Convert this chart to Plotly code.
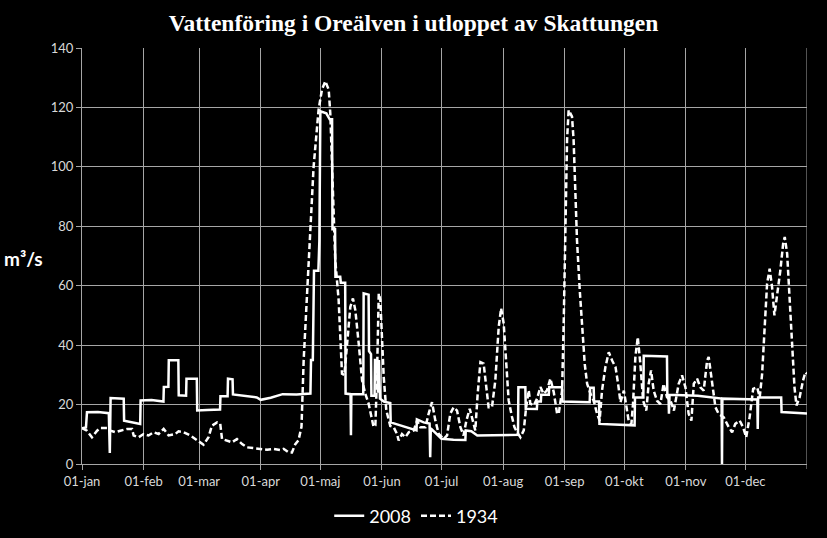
import plotly.graph_objects as go

# ---- data (day of year, value in m3/s) ----
days_2008 = [0, 2, 2.5, 8, 13.5, 14, 14.4, 21, 21.2, 25, 29.3, 29.5, 35, 41, 41.2, 43.5, 43.7, 48.5, 48.7,
             52.4, 52.6, 57.8, 58, 63, 69.5, 69.7, 73.3, 73.5, 75.8, 76, 82, 88, 90, 95, 101, 108, 115,
             115.3, 116.2, 116.4, 116.8, 119, 119.5, 120, 123, 124.7, 125.9, 126.1, 127.4, 127.6, 130,
             130.3, 132.5, 132.7, 135.2, 135.4, 135.6, 141.6, 141.8, 144.3, 144.5, 145.5, 145.7, 147.3,
             147.5, 148.5, 149, 149.5, 150, 152, 155.2, 155.4, 158, 162, 166, 168.4, 168.6, 172, 175,
             175.3, 175.6, 178, 181, 187, 193, 193.2, 196, 199, 205, 212, 219.5, 219.7, 223.2, 223.4,
             229, 229.2, 231, 231.2, 235, 235.2, 241.7, 241.9, 250, 255.6, 255.8, 257.6, 257.8, 260.3,
             260.5, 270, 278.2, 278.4, 282.6, 282.8, 294.5, 294.7, 295.3, 295.5, 295.8, 310, 322,
             322.2, 322.4, 340, 340.2, 340.4, 352, 352.2, 358, 365]
vals_2008 = [12, 12.3, 17.4, 17.5, 17.1, 3.7, 22.2, 22, 14.6, 14, 13.5, 21.4, 21.5, 21, 25.9, 26, 34.9, 34.9, 23.1,
             23, 28.7, 28.7, 18, 18.2, 18.3, 22.8, 22.8, 28.7, 28.5, 23.4, 23, 22.4, 21.6, 22.3, 23.5, 23.4, 23.7,
             35, 35, 50.7, 65, 65, 75, 118.7, 118, 116, 116, 79, 79, 63, 63,
             61, 61, 23.7, 23.5, 9.7, 23.5, 23.5, 57.4, 57, 38, 37, 23, 23,
             35, 35, 24, 35, 22, 21, 20.5, 14, 13.5, 12.5, 11.8, 11.3, 15, 14, 13.6,
             2.3, 12, 10.3, 8.5, 8.2, 8.1, 11.3, 11, 9.6, 9.7, 9.7, 9.8, 25.8, 25.8, 18.6,
             18.5, 21, 21, 23.3, 23.3, 25.8, 25.8, 21, 20.8, 20.8, 25.7, 25.7, 21, 21,
             13.5, 13.2, 13, 22.4, 22.4, 36.4, 36.2, 22.5, 22.8, 16.9, 23.3, 23, 22,
             0, 22, 21.7, 11.8, 22.4, 22.4, 17.5, 17.2, 17]

days_1934 = [0, 2.5, 5, 7.6, 9.2, 12.6, 14.3, 16.8, 19.3, 22.7, 25.2, 26, 28.5, 31, 33.5, 36, 38.6, 41.1,
             43.6, 47, 48.6, 51.2, 54.5, 57.9, 61.2, 63.7, 65.4, 68, 69.6, 70.5, 73, 75.5, 78, 80.6, 83.1,
             86.4, 89.8, 93.2, 96.5, 99.8, 101.5, 104, 105.7, 107.4, 109, 110.5, 111.6, 113.3, 115, 116.6,
             119.1, 120.8, 122.5, 124.2, 125, 125.9, 126.7, 127.5, 129.2, 130.1, 130.9, 132.1, 133.4,
             135.1, 136.4, 137.6, 139.3, 141, 142.6, 144.3, 146.8, 147.7, 148.5, 149.4, 150.2, 151,
             151.9, 153.2, 155.2, 156.9, 158.6, 159.4, 161.1, 162.8, 164.5, 167, 168.7, 170.3, 172.9,
             174.5, 176.2, 177.9, 179.6, 182.1, 183.8, 185.4, 187.1, 188.8, 190.5, 192.1, 193.5, 195.2,
             196.9, 198, 199.2, 200.6, 202.2, 203.6, 204.7, 206.4, 208.1, 209.8, 211, 212.3, 213.6,
             214.8, 216.5, 217.7, 219, 220.7, 222.4, 223.6, 224.9, 225.7, 227.4, 229.1, 230.8, 232.4,
             234.1, 235.8, 237.5, 239.2, 240, 241.7, 242.5, 243.3, 244.2, 245, 246.7, 247.5, 248.4,
             249.2, 250.6, 251.8, 253.1, 254.3, 256, 257.6, 259.3, 260.6, 261.8, 263.5, 265.2, 266.9,
             268.6, 269.9, 271.1, 272.8, 274.1, 275.2, 276.6, 277.4, 278.6, 279.8, 281.1, 282.5, 284.1,
             285.3, 286.5, 287.8, 289.5, 291.2, 292.8, 294.5, 296.3, 298, 300.4, 302.1, 303.8, 305.4,
             306.8, 308, 309.7, 311.3, 313, 314.7, 315.5, 317.2, 318.9, 320.5, 323.1, 325.6, 327.3,
             328.9, 331.1, 332.8, 334.4, 336.1, 337.9, 339.9, 341.2, 342.4, 343.6, 344.9, 346.2, 347.4,
             348.6, 349.9, 351.6, 353, 353.8, 355, 356.3, 357.5, 358.7, 359.7, 361.3, 363, 364.2, 365]
vals_1934 = [12.1, 11.2, 9.0, 11.2, 12.1, 12.1, 11.2, 10.7, 11.2, 11.8, 11.8, 9.6, 9.0, 10.1, 9.6, 10.7, 10.1, 11.8,
             9.6, 10.1, 11, 10.7, 9.6, 7.9, 6.5, 9, 12.9, 14, 13.5, 8.4, 7.9, 7.3, 8.4, 6.7, 5.6,
             5.3, 5.1, 4.8, 5.1, 4.7, 5.1, 3.9, 3.9, 6.7, 8, 12.5, 35, 57.4, 79.9, 100,
             119.2, 126, 128.8, 126, 118, 102.4, 85.5, 68.7, 55.2, 42.8, 30.4, 29.9, 40.6,
             52.9, 55.7, 51.8, 40.6, 28.2, 23.7, 20.3, 12.5, 13, 29.3, 57.4, 55.2, 42.8,
             29.3, 18.1, 12.8, 12.4, 10.1, 7.9, 10.1, 9, 10.7, 11.3, 14.6, 12.4, 12.4,
             16.9, 20.8, 14.6, 10.1, 8.4, 9.6, 16.9, 19.1, 18, 12.4, 9.6, 14.6, 18.6,
             14.6, 11.3, 23.6, 34.3, 33.8, 25.9, 19.1, 19.1, 28.2, 46.2, 52.4, 47.3, 33.8,
             21.4, 15.8, 12.4, 10.7, 9, 11.3, 19.1, 24.8, 20.3, 19.7, 22, 25.9, 23.6,
             24.8, 28.7, 24.2, 16.9, 16.9, 24.7, 47.2, 80.9, 109, 119.1, 116.9, 109, 92.1,
             75.3, 58.4, 44.9, 33.7, 27, 23.6, 21.3, 16.9, 14.6, 24.7, 32.6, 37.6, 34.8,
             32.6, 27, 20.8, 24.7, 19.1, 14.6, 13.5, 20.2, 36, 42.7, 33.7, 21.3, 18,
             27, 31.5, 24.7, 21.3, 20.2, 27, 22.5, 21.3, 18, 27, 29.8, 25.8, 16.9,
             14.6, 27, 28.7, 25.8, 24.7, 34.8, 36, 28.1, 19.1, 16.9, 15.7, 12.4, 10.7,
             13.5, 14.6, 12.4, 9, 15.7, 25.3, 25.8, 22.5, 30.3, 46.1, 60.7, 65.7, 59.6,
             50, 56.2, 65.2, 74.2, 76.4, 70.8, 55.1, 38.2, 25.8, 19.7, 22.5, 28.1, 30.9, 30.3]

month_starts = [0, 31, 59, 90, 120, 151, 181, 212, 243, 273, 304, 334]
month_labels = ["01-jan", "01-feb", "01-mar", "01-apr", "01-maj", "01-jun",
                "01-jul", "01-aug", "01-sep", "01-okt", "01-nov", "01-dec"]
year_end = 365
y_ticks = [0, 20, 40, 60, 80, 100, 120, 140]

title_text = "Vattenföring i Oreälven i utloppet av Skattungen"
unit_text = "m³/s"

GRID = "#a6a6a6"
TXT = "#d9d9d9"

fig = go.Figure()
fig.add_trace(go.Scatter(x=days_2008, y=vals_2008, mode="lines", name="2008",
                         line=dict(color="white", width=2.5)))
fig.add_trace(go.Scatter(x=days_1934, y=vals_1934, mode="lines", name="1934",
                         line=dict(color="white", width=2.5, dash="6px,3px")))

fig.update_layout(
    width=827, height=538,
    paper_bgcolor="black", plot_bgcolor="black",
    margin=dict(l=82, r=20, t=48, b=74, autoexpand=False),
    title=dict(text="<b>" + title_text + "</b>", x=0.5, xanchor="center",
               y=1 - 22.5 / 538, yanchor="middle", yref="container",
               font=dict(family="Liberation Serif", size=23.5, color="white")),
    font=dict(family="Lato", color=TXT, size=13),
    showlegend=True,
    legend=dict(orientation="h", x=0.461, xanchor="center", y=-0.125, yanchor="middle",
                font=dict(family="Lato", size=18, color="white"),
                bgcolor="rgba(0,0,0,0)", itemwidth=30),
    xaxis=dict(range=[0, year_end], tickmode="array", tickvals=month_starts, ticktext=month_labels,
               showgrid=True, gridcolor=GRID, gridwidth=1,
               showline=True, linecolor=GRID, linewidth=1,
               ticks="outside", ticklen=5, tickcolor=GRID,
               zeroline=False, tickfont=dict(family="Lato", size=13, color=TXT)),
    yaxis=dict(range=[0, 140], tickmode="array", tickvals=y_ticks,
               showgrid=True, gridcolor=GRID, gridwidth=1,
               showline=True, linecolor=GRID, linewidth=1,
               ticks="outside", ticklen=5, tickcolor=GRID,
               zeroline=False, tickfont=dict(family="Lato", size=13, color=TXT)),
    shapes=[dict(type="line", xref="x", yref="paper", x0=year_end, x1=year_end,
                 y0=-5 / 416, y1=1, line=dict(color=GRID, width=1), layer="below")],
    annotations=[dict(text="<b>" + unit_text + "</b>", xref="paper", yref="y",
                      x=-0.0807, y=69, xanchor="center", yanchor="middle", showarrow=False,
                      font=dict(family="Lato", size=19, color="white"))],
)

fig.write_html("out.html")
